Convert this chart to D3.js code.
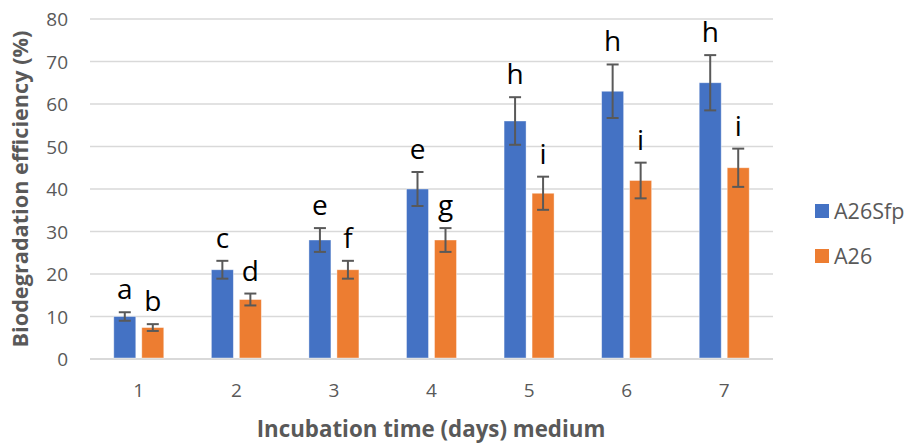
<!DOCTYPE html>
<html>
<head>
<meta charset="utf-8">
<script src="https://cdn.jsdelivr.net/npm/d3@7"></script>
<style>
  body { margin: 0; background: #fff; }
  text { font-family: "Open Sans", "Noto Sans", sans-serif; }
</style>
</head>
<body>
<div id="plot"></div>
<script>
const w = 911;
const h = 446;
const margin = {top: 19, right: 138, bottom: 87, left: 90};
const innerWidth = w - margin.left - margin.right;
const innerHeight = h - margin.top - margin.bottom;

// data
const days = ["1", "2", "3", "4", "5", "6", "7"];
const seriesNames = ["A26Sfp", "A26"];
const sfpValues = [10, 21, 28, 40, 56, 63, 65];
const sfpErrors = [1, 2.1, 2.8, 4, 5.6, 6.3, 6.5];
const sfpLetters = ["a", "c", "e", "e", "h", "h", "h"];
const a26Values = [7.4, 14, 21, 28, 39, 42, 45];
const a26Errors = [0.8, 1.4, 2.1, 2.8, 3.9, 4.2, 4.5];
const a26Letters = ["b", "d", "f", "g", "i", "i", "i"];
const yTicks = [0, 10, 20, 30, 40, 50, 60, 70, 80];
const colors = ["#4472C4", "#ED7D31"];

const series = [
  {name: seriesNames[0], values: sfpValues, errors: sfpErrors, letters: sfpLetters},
  {name: seriesNames[1], values: a26Values, errors: a26Errors, letters: a26Letters}
];

const svg = d3.select("div#plot")
    .append("svg")
    .attr("width", w)
    .attr("height", h);

const g = svg.append("g")
    .attr("transform", `translate(${margin.left}, ${margin.top})`);

const xScale = d3.scaleBand()
    .domain(days)
    .range([0, innerWidth]);

const barW = 22;
const barGap = 6;
const xSub = d3.scaleOrdinal()
    .domain([0, 1])
    .range([-barGap / 2 - barW, barGap / 2]);

const yScale = d3.scaleLinear()
    .domain([0, 80])
    .range([innerHeight, 0]);

// gridlines
g.append("g")
  .selectAll("line")
  .data(yTicks)
  .join("line")
    .attr("x1", 0)
    .attr("x2", innerWidth)
    .attr("y1", d => yScale(d))
    .attr("y2", d => yScale(d))
    .attr("stroke", "#d9d9d9")
    .attr("stroke-width", d => d === 0 ? 2.2 : 1.5);

// y axis labels
const yAxis = d3.axisLeft(yScale)
    .tickValues(yTicks)
    .tickSize(0)
    .tickPadding(22);

g.append("g")
    .call(yAxis)
    .call(s => s.select(".domain").remove())
    .selectAll("text")
    .attr("dy", 6.5)
    .attr("font-family", "'Open Sans', sans-serif")
    .attr("font-size", 19)
    .attr("fill", "#595959");

// x axis labels
const xAxis = d3.axisBottom(xScale)
    .tickSize(0)
    .tickPadding(0);

g.append("g")
    .attr("transform", `translate(0, ${innerHeight})`)
    .call(xAxis)
    .call(s => s.select(".domain").remove())
    .selectAll("text")
    .attr("y", 38)
    .attr("dy", null)
    .attr("font-family", "'Open Sans', sans-serif")
    .attr("font-size", 19)
    .attr("fill", "#595959");

// bars
series.forEach((s, si) => {
  const grp = g.append("g");

  grp.selectAll("rect")
    .data(s.values)
    .join("rect")
      .attr("x", (d, i) => xScale(days[i]) + xScale.bandwidth() / 2 + xSub(si))
      .attr("y", d => yScale(d))
      .attr("width", barW)
      .attr("height", d => yScale(0) - yScale(d) - 1)
      .attr("fill", colors[si])
      .attr("stroke", "#fff")
      .attr("stroke-opacity", 0.5)
      .attr("stroke-width", 0.8);

  const cx = i => xScale(days[i]) + xScale.bandwidth() / 2 + xSub(si) + barW / 2;

  const err = grp.selectAll("g.err")
    .data(s.values)
    .join("g")
      .attr("class", "err")
      .attr("stroke", "#595959")
      .attr("stroke-width", 2);

  err.append("line")
      .attr("x1", (d, i) => cx(i))
      .attr("x2", (d, i) => cx(i))
      .attr("y1", (d, i) => yScale(d + s.errors[i]))
      .attr("y2", (d, i) => yScale(d - s.errors[i]));

  [1, -1].forEach(sign => {
    err.append("line")
        .attr("x1", (d, i) => cx(i) - 6)
        .attr("x2", (d, i) => cx(i) + 6)
        .attr("y1", (d, i) => yScale(d + sign * s.errors[i]))
        .attr("y2", (d, i) => yScale(d + sign * s.errors[i]));
  });

  grp.selectAll("text.letter")
    .data(s.letters)
    .join("text")
      .attr("class", "letter")
      .attr("x", (d, i) => cx(i))
      .attr("y", (d, i) => yScale(s.values[i] + s.errors[i]) - 13)
      .attr("text-anchor", "middle")
      .attr("font-size", 28)
      .attr("fill", "#000")
      .text(d => d);
});

// axis titles
svg.append("text")
    .attr("transform", "translate(28, 189) rotate(-90)")
    .attr("text-anchor", "middle")
    .attr("font-size", 21.7)
    .attr("font-weight", "bold")
    .attr("fill", "#595959")
    .text("Biodegradation efficiency (%)");

svg.append("text")
    .attr("x", 431)
    .attr("y", 437)
    .attr("text-anchor", "middle")
    .attr("font-size", 22.3)
    .attr("font-weight", "bold")
    .attr("fill", "#595959")
    .text("Incubation time (days) medium");

// legend
const legend = svg.append("g")
    .attr("transform", "translate(815, 204)");

const items = legend.selectAll("g")
  .data(seriesNames)
  .join("g")
    .attr("transform", (d, i) => `translate(0, ${i * 45})`);

items.append("rect")
    .attr("width", 14)
    .attr("height", 14)
    .attr("fill", (d, i) => colors[i]);

items.append("text")
    .attr("x", 19)
    .attr("y", 14.5)
    .attr("font-size", 21.5)
    .attr("fill", "#595959")
    .text(d => d);
</script>
</body>
</html>
